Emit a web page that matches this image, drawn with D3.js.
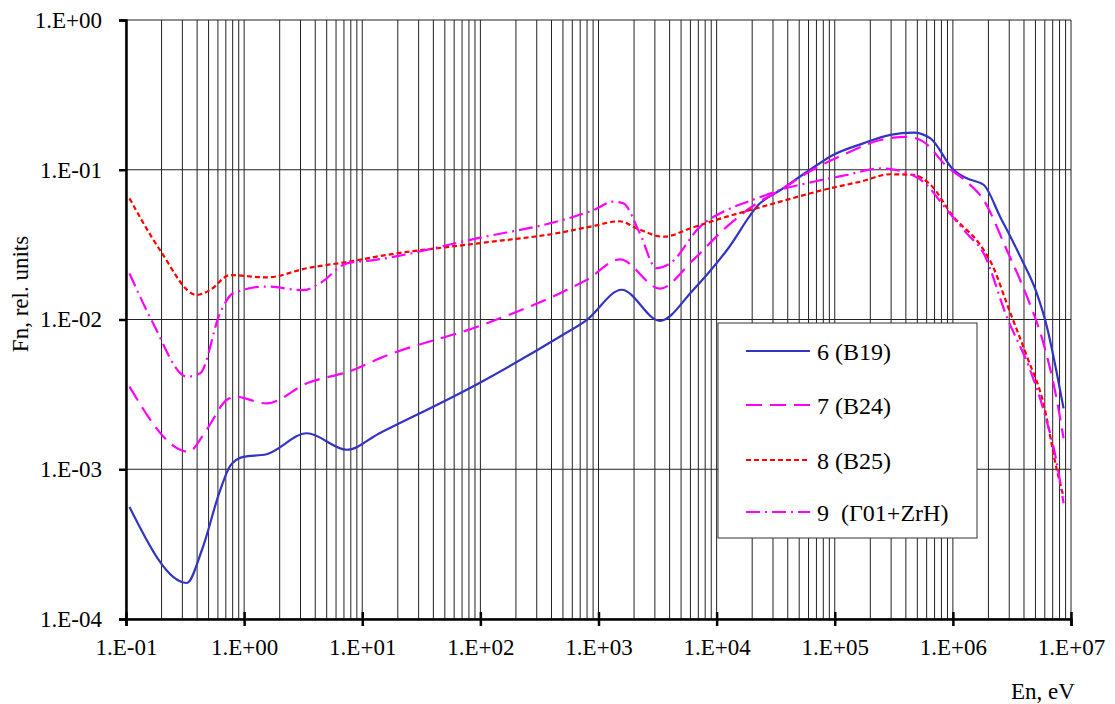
<!DOCTYPE html>
<html>
<head>
<meta charset="utf-8">
<script src="https://cdn.jsdelivr.net/npm/d3@7"></script>
<style>
body{margin:0;background:#fff;}
text{font-family:"Liberation Serif","Times New Roman",serif;fill:#000;}
</style>
</head>
<body>
<div id="chart"></div>
<script>
// energies (eV) and spectra
var e6=[0.107,0.327,0.44,0.625,0.76,0.98,1.55,3.4,7.4,14,100,473,794,1570,3310,6300,12200,23300,34500,61700,97700,174000,295000,465000,646000,1.01e6,1.31e6,1.82e6,2.51e6,3.72e6,5.13e6,6.25e6,7.59e6,8.65e6];
var f6=[5.6e-4,1.74e-4,2.9e-4,7.2e-4,1.05e-3,1.21e-3,1.26e-3,1.74e-3,1.35e-3,1.74e-3,3.8e-3,7.7e-3,9.9e-3,1.58e-2,9.8e-3,1.57e-2,2.9e-2,5.97e-2,7.3e-2,0.100,0.126,0.150,0.171,0.177,0.162,0.100,0.0877,0.0794,0.0486,0.0263,0.0150,8.95e-3,4.37e-3,2.55e-3];

var e7=[0.107,0.337,0.48,0.71,0.84,1.55,3.4,8.4,14,100,473,794,1520,3310,6300,12200,21900,34500,58100,126000,243000,407000,562000,891000,1.31e6,1.82e6,2.86e6,4.24e6,5.85e6,7.59e6,8.65e6];
var f7=[3.56e-3,1.31e-3,1.83e-3,2.9e-3,3.05e-3,2.75e-3,3.75e-3,4.6e-3,5.5e-3,9.1e-3,1.5e-2,1.84e-2,2.52e-2,1.61e-2,2.49e-2,4.17e-2,5.97e-2,7.3e-2,9.5e-2,0.129,0.158,0.166,0.154,0.105,0.0832,0.0628,0.0291,0.0142,6.93e-3,2.9e-3,1.61e-3];

var e8=[0.107,0.194,0.397,0.514,0.76,1.55,3.4,8.4,14,100,473,851,1520,2110,3550,6300,12200,23300,34500,91200,164000,295000,465000,646000,1.01e6,1.70e6,2.19e6,2.86e6,4.24e6,5.85e6,7.59e6,8.65e6];
var f8=[6.44e-2,2.91e-2,1.46e-2,1.57e-2,1.98e-2,1.91e-2,2.2e-2,2.46e-2,2.65e-2,3.24e-2,3.8e-2,4.17e-2,4.53e-2,4.06e-2,3.57e-2,4.12e-2,4.86e-2,5.61e-2,6.12e-2,7.52e-2,8.32e-2,9.33e-2,9.23e-2,7.94e-2,4.86e-2,3.15e-2,2.25e-2,1.28e-2,5.65e-3,2.75e-3,9.9e-4,6.56e-4];

var e9=[0.107,0.17,0.327,0.424,0.625,0.81,1.55,3.16,4.4,7.4,12.4,100,473,906,1340,1620,2240,3090,4040,7240,12200,21900,34500,66100,126000,243000,380000,562000,891000,1.31e6,1.82e6,2.86e6,4.51e6,5.85e6,7.59e6,8.65e6];
var f9=[2.03e-2,9.4e-3,4.15e-3,4.37e-3,1.1e-2,1.5e-2,1.66e-2,1.57e-2,1.75e-2,2.37e-2,2.49e-2,3.52e-2,4.57e-2,5.38e-2,6.12e-2,5.97e-2,3.76e-2,2.2e-2,2.37e-2,4.17e-2,5.38e-2,6.44e-2,7.33e-2,8.32e-2,9.23e-2,0.102,0.097,8.32e-2,5.38e-2,3.76e-2,2.77e-2,1.04e-2,4.6e-3,2.49e-3,1.1e-3,5.93e-4];

var seriesNames=["6 (B19)","7 (B24)","8 (B25)","9  (\u039301+ZrH)"];
var xTicks=[1e-1,1e0,1e1,1e2,1e3,1e4,1e5,1e6,1e7];
var yTicks=[1e-4,1e-3,1e-2,1e-1,1e0];

var W=1115,H=704;
var margin={left:126,top:20,right:44,bottom:85};
var pw=W-margin.left-margin.right, ph=H-margin.top-margin.bottom;

var svg=d3.select("#chart").append("svg").attr("width",W).attr("height",H);
var g=svg.append("g").attr("transform","translate("+margin.left+","+margin.top+")");

var x=d3.scaleLog().domain([1e-1,1e7]).range([0,pw]);
var y=d3.scaleLog().domain([1e-4,1e0]).range([ph,0]);

function fmt(d){
  var p=Math.round(Math.log10(d));
  return "1.E"+(p<0?"-":"+")+(Math.abs(p)<10?"0":"")+Math.abs(p);
}

// vertical grid incl. minor decades
var minor=[];
for(var k=-1;k<7;k++){ for(var m=1;m<=9;m++){ minor.push(m*Math.pow(10,k)); } }
minor.push(1e7);
g.append("g").selectAll("line").data(minor).enter().append("line")
  .attr("x1",function(d){return x(d);}).attr("x2",function(d){return x(d);})
  .attr("y1",0).attr("y2",ph)
  .attr("stroke","#222").attr("stroke-width",1);
g.append("g").selectAll("line").data(yTicks).enter().append("line")
  .attr("x1",0).attr("x2",pw)
  .attr("y1",function(d){return y(d);}).attr("y2",function(d){return y(d);})
  .attr("stroke","#222").attr("stroke-width",1);

// axes
var xAxis=g.append("g").attr("transform","translate(0,"+ph+")")
  .call(d3.axisBottom(x).tickValues(xTicks).tickFormat(fmt).tickSize(7).tickPadding(13));
var yAxis=g.append("g")
  .call(d3.axisLeft(y).tickValues(yTicks).tickFormat(fmt).tickSize(7).tickPadding(17));
[xAxis,yAxis].forEach(function(a){
  a.select(".domain").attr("stroke","#000").attr("stroke-width",2.5);
  a.selectAll(".tick line").attr("stroke","#000").attr("stroke-width",2.5);
  a.selectAll("text").style("font-size","23px").style("font-family","Liberation Serif");
});
xAxis.selectAll(".tick line").attr("transform","translate(0,-7)");
xAxis.selectAll(".tick line").attr("y2",14);
yAxis.selectAll(".tick line").attr("x2",-7);

// curves
var line=d3.line().x(function(d){return x(d[0]);}).y(function(d){return y(d[1]);}).curve(d3.curveMonotoneX);
var series=[
  {e:e6,f:f6,color:"#3434c4",dash:null,w:2.2},
  {e:e7,f:f7,color:"#ff00ff",dash:"16,8",w:2.2},
  {e:e8,f:f8,color:"#ff0000",dash:"5,3",w:2.2},
  {e:e9,f:f9,color:"#ff00ff",dash:"14,5,2,5",w:2.2}
];
series.forEach(function(s){
  g.append("path").datum(d3.zip(s.e,s.f)).attr("d",line)
    .attr("fill","none").attr("stroke",s.color).attr("stroke-width",s.w)
    .attr("stroke-dasharray",s.dash);
});

// legend
var lg=svg.append("g").attr("transform","translate(718,323)");
lg.append("rect").attr("width",259).attr("height",215).attr("fill","#fff").attr("stroke","#333").attr("stroke-width",1);
var rows=[28,82,137,189];
series.forEach(function(s,i){
  lg.append("line").attr("x1",28).attr("x2",92).attr("y1",rows[i]).attr("y2",rows[i])
    .attr("stroke",s.color).attr("stroke-width",2.2).attr("stroke-dasharray",s.dash);
  lg.append("text").attr("x",99).attr("y",rows[i]+9).text(seriesNames[i])
    .style("font-size","24px").style("white-space","pre");
});

// axis titles
svg.append("text").attr("x",1043).attr("y",699).attr("text-anchor","middle").style("font-size","23px").text("En, eV");
svg.append("text").attr("transform","translate(28,294) rotate(-90)").attr("text-anchor","middle").style("font-size","23px").text("Fn, rel. units");
</script>
</body>
</html>
